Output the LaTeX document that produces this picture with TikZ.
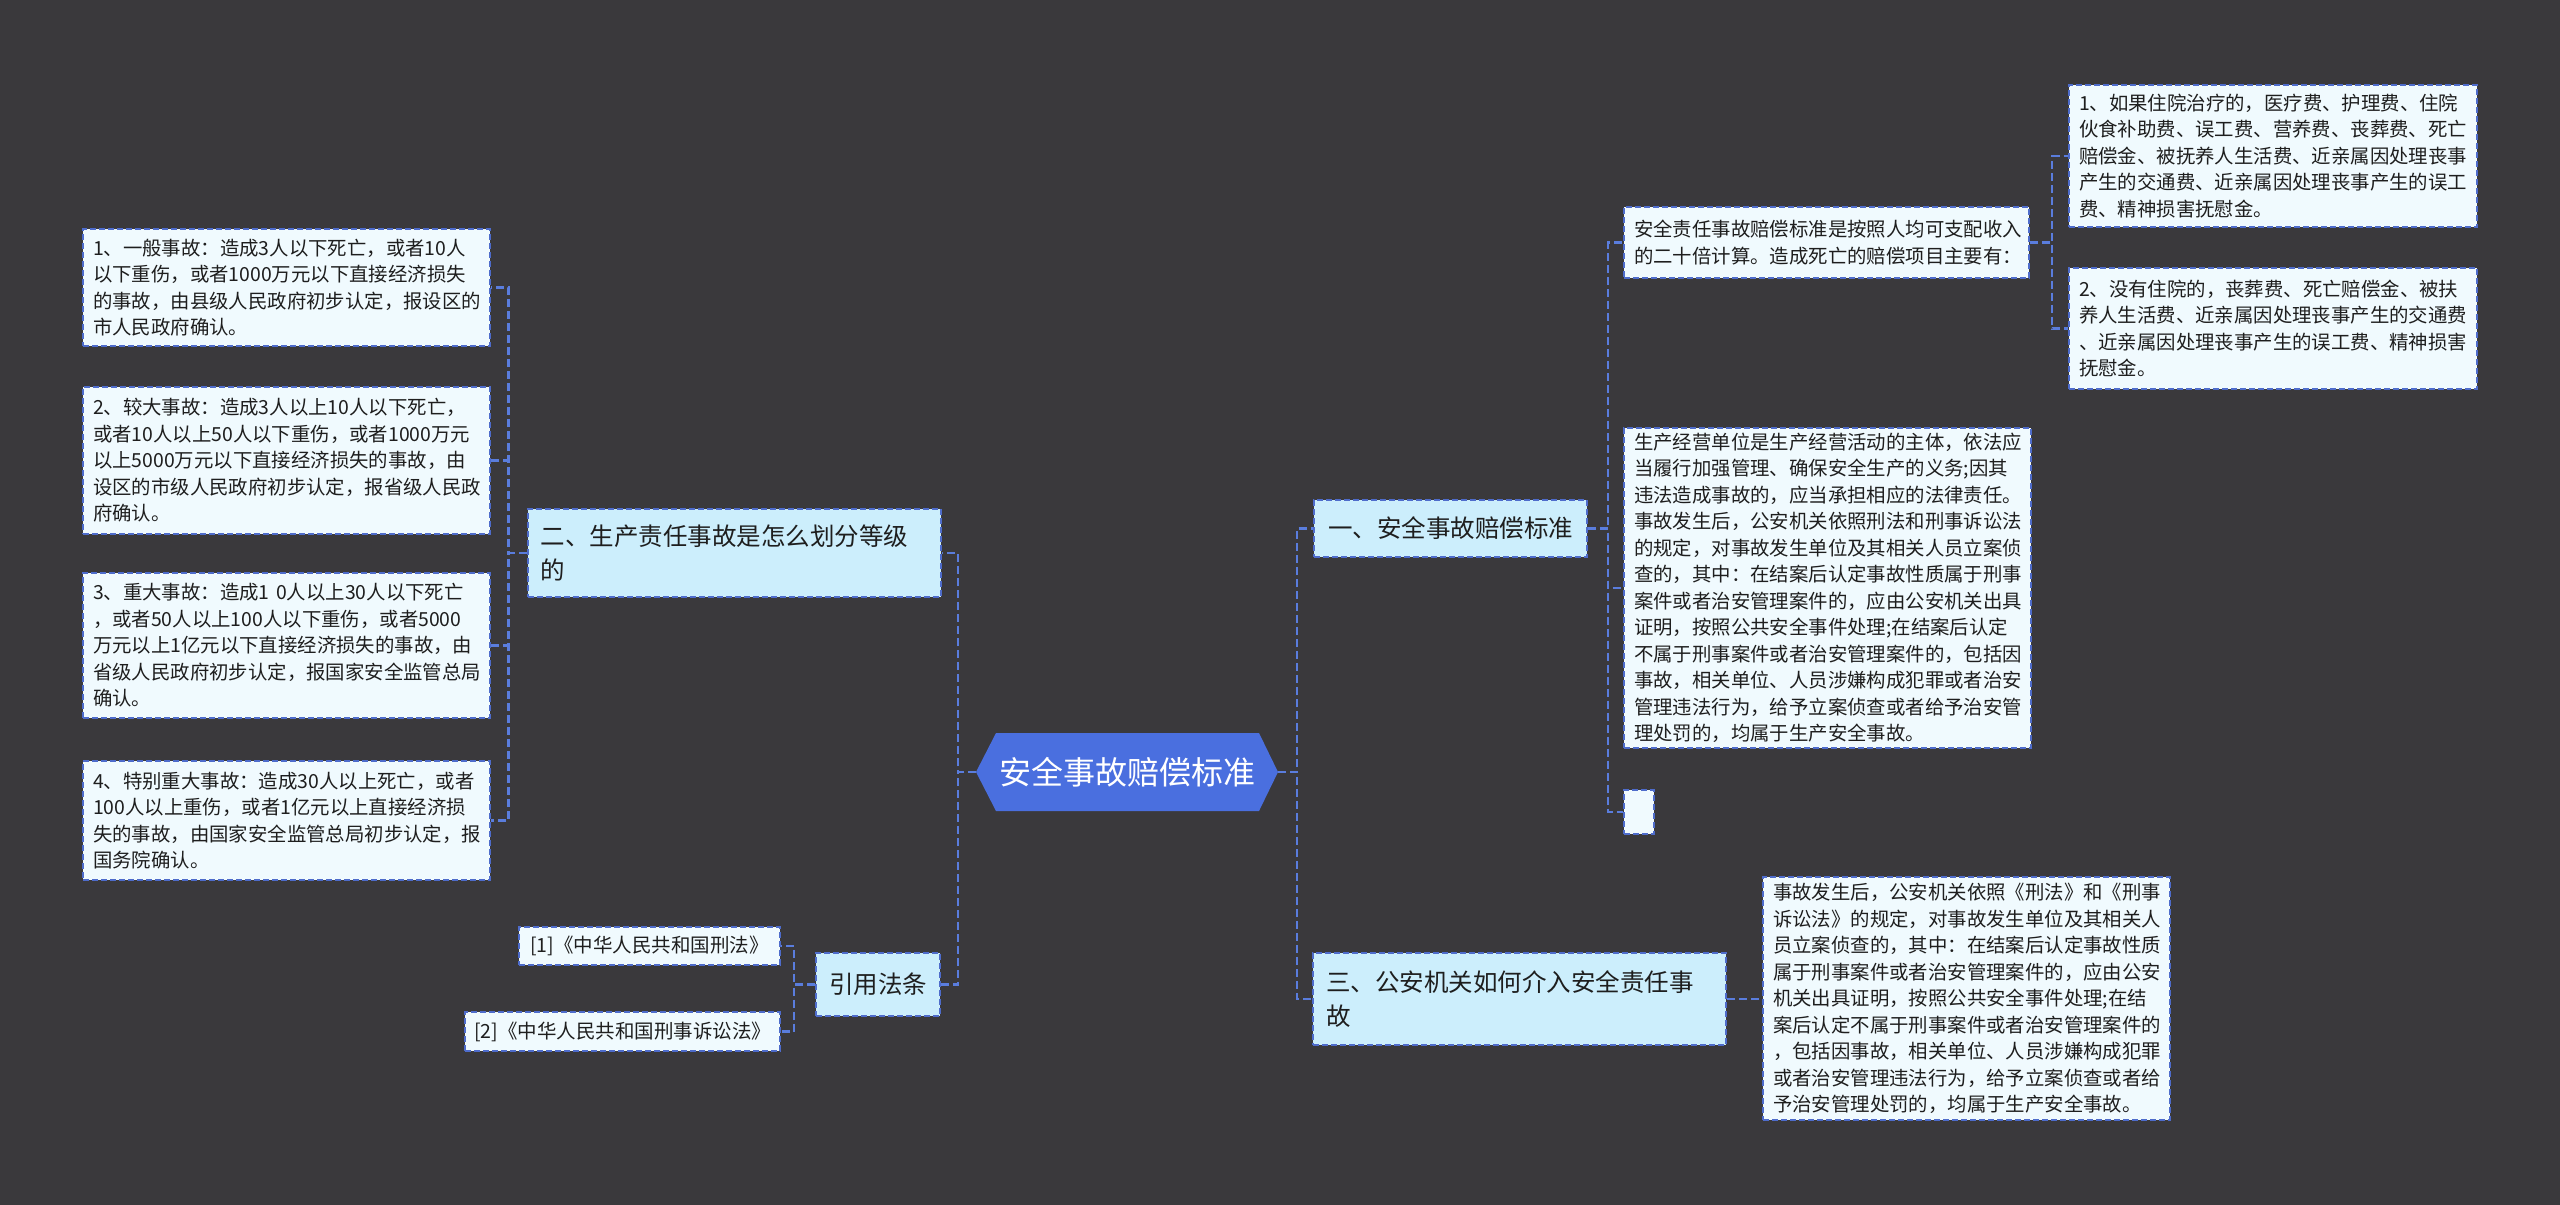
\documentclass[tikz,border=0pt]{standalone}
\usepackage{fontspec}
\setmainfont{Noto Sans CJK SC}
\definecolor{bgc}{HTML}{3A393C}
\definecolor{lineblue}{HTML}{5A7DDD}
\definecolor{boxblue}{HTML}{4E6CCB}
\definecolor{lvltwo}{HTML}{CCEEFC}
\definecolor{leaffill}{HTML}{F0FAFE}
\definecolor{rootfill}{HTML}{4A6FDF}
\definecolor{txt}{HTML}{1E1E1E}
\newcommand{\leaffont}{\fontsize{19.4}{26.5}\selectfont}
\newcommand{\branchfont}{\fontsize{24.5}{34}\selectfont}
\newcommand{\citefont}{\fontsize{19.5}{24}\selectfont}
\newcommand{\rootfont}{\fontsize{32}{38}\selectfont}
\tikzset{
  connline/.style={draw=lineblue, line width=2.6pt, dash pattern=on 8pt off 4pt},
  boxline/.style={draw=boxblue, line width=2pt, dash pattern=on 6pt off 3pt},
  leafbox/.style={boxline, fill=leaffill, text=txt, font=\leaffont, align=left, inner xsep=10pt, inner ysep=0pt},
  citebox/.style={boxline, fill=leaffill, text=txt, font=\citefont, inner xsep=0pt, inner ysep=0pt},
  branchbox/.style={boxline, fill=lvltwo, text=txt, font=\branchfont, inner xsep=13pt, inner ysep=0pt},
}
\begin{document}
\begin{tikzpicture}[x=1pt, y=-1pt]
\useasboundingbox (0,0) rectangle (2560,1205);
\fill[bgc] (0,0) rectangle (2560,1205);

% root hexagon
\fill[rootfill] (996,733) -- (1259,733) -- (1278,772) -- (1259,811) -- (996,811) -- (976,772) -- cycle;
\node[text=white, font=\rootfont, inner sep=0pt] (root) at (1127.5,772) {安全事故赔偿标准};
\coordinate (rootL) at (976,772);
\coordinate (rootR) at (1278,772);

% level two
\node[branchbox, minimum width=273pt, minimum height=57pt, inner xsep=0pt] (n1) at (1450.5,528.5) {一、安全事故赔偿标准};
\node[branchbox, text width=387pt, align=left, minimum height=88pt] (n2) at (734,553) {二、生产责任事故是怎么划分等级\\的};
\node[branchbox, text width=387pt, align=left, minimum height=92pt] (n3) at (1519.5,999) {三、公安机关如何介入安全责任事\\故};
\node[branchbox, minimum width=124pt, minimum height=63pt, inner xsep=0pt] (cite) at (878,984.5) {引用法条};

% left leaves
\node[leafbox, text width=387pt, minimum height=117pt] (L1) at (286.5,287.5) {1、一般事故：造成3人以下死亡，或者10人\\以下重伤，或者1000万元以下直接经济损失\\的事故，由县级人民政府初步认定，报设区的\\市人民政府确认。};
\node[leafbox, text width=387pt, minimum height=147pt] (L2) at (286.5,460.5) {2、较大事故：造成3人以上10人以下死亡，\\或者10人以上50人以下重伤，或者1000万元\\以上5000万元以下直接经济损失的事故，由\\设区的市级人民政府初步认定，报省级人民政\\府确认。};
\node[leafbox, text width=387pt, minimum height=145pt] (L3) at (286.5,645.5) {3、重大事故：造成1 0人以上30人以下死亡\\，或者50人以上100人以下重伤，或者5000\\万元以上1亿元以下直接经济损失的事故，由\\省级人民政府初步认定，报国家安全监管总局\\确认。};
\node[leafbox, text width=387pt, minimum height=119pt] (L4) at (286.5,820.5) {4、特别重大事故：造成30人以上死亡，或者\\100人以上重伤，或者1亿元以上直接经济损\\失的事故，由国家安全监管总局初步认定，报\\国务院确认。};

% citations
\node[citebox, minimum width=261pt, minimum height=38pt] (c1) at (649.5,946) {[1]《中华人民共和国刑法》};
\node[citebox, minimum width=315pt, minimum height=39pt] (c2) at (622.5,1031.5) {[2]《中华人民共和国刑事诉讼法》};

% right leaves
\node[leafbox, text width=385pt, minimum height=71pt] (R1) at (1826.5,242.5) {安全责任事故赔偿标准是按照人均可支配收入\\的二十倍计算。造成死亡的赔偿项目主要有：};
\node[leafbox, text width=388pt, minimum height=142pt] (R1a) at (2273,156) {1、如果住院治疗的，医疗费、护理费、住院\\伙食补助费、误工费、营养费、丧葬费、死亡\\赔偿金、被抚养人生活费、近亲属因处理丧事\\产生的交通费、近亲属因处理丧事产生的误工\\费、精神损害抚慰金。};
\node[leafbox, text width=388pt, minimum height=121pt] (R1b) at (2273,328.5) {2、没有住院的，丧葬费、死亡赔偿金、被扶\\养人生活费、近亲属因处理丧事产生的交通费\\、近亲属因处理丧事产生的误工费、精神损害\\抚慰金。};
\node[leafbox, text width=387pt, minimum height=320pt] (R2) at (1827.5,588) {生产经营单位是生产经营活动的主体，依法应\\当履行加强管理、确保安全生产的义务;因其\\违法造成事故的，应当承担相应的法律责任。\\事故发生后，公安机关依照刑法和刑事诉讼法\\的规定，对事故发生单位及其相关人员立案侦\\查的，其中：在结案后认定事故性质属于刑事\\案件或者治安管理案件的，应由公安机关出具\\证明，按照公共安全事件处理;在结案后认定\\不属于刑事案件或者治安管理案件的，包括因\\事故，相关单位、人员涉嫌构成犯罪或者治安\\管理违法行为，给予立案侦查或者给予治安管\\理处罚的，均属于生产安全事故。};
\node[leafbox, inner xsep=0pt, minimum width=30pt, minimum height=44pt] (R3) at (1639,812) {};
\node[leafbox, text width=387pt, minimum height=243pt] (R4) at (1966.5,998.5) {事故发生后，公安机关依照《刑法》和《刑事\\诉讼法》的规定，对事故发生单位及其相关人\\员立案侦查的，其中：在结案后认定事故性质\\属于刑事案件或者治安管理案件的，应由公安\\机关出具证明，按照公共安全事件处理;在结\\案后认定不属于刑事案件或者治安管理案件的\\，包括因事故，相关单位、人员涉嫌构成犯罪\\或者治安管理违法行为，给予立案侦查或者给\\予治安管理处罚的，均属于生产安全事故。};

% connectors
\draw[connline] (rootR) -- ++(19,0) |- (n1.west);
\draw[connline] (rootR) -- ++(19,0) |- (n3.west);
\draw[connline] (rootL) -- ++(-18,0) |- (n2.east);
\draw[connline] (rootL) -- ++(-18,0) |- (cite.east);

\draw[connline] (n2.west) -- ++(-18,0) |- (L1.east);
\draw[connline] (n2.west) -- ++(-18,0) |- (L2.east);
\draw[connline] (n2.west) -- ++(-18,0) |- (L3.east);
\draw[connline] (n2.west) -- ++(-18,0) |- (L4.east);

\draw[connline] (cite.west) -- ++(-21,0) |- (c1.east);
\draw[connline] (cite.west) -- ++(-21,0) |- (c2.east);

\draw[connline] (n1.east) -- ++(20,0) |- (R1.west);
\draw[connline] (n1.east) -- ++(20,0) |- (R2.west);
\draw[connline] (n1.east) -- ++(20,0) |- (R3.west);

\draw[connline] (R1.east) -- ++(22,0) |- (R1a.west);
\draw[connline] (R1.east) -- ++(22,0) |- (R1b.west);

\draw[connline] (n3.east) -- (n3.east -| R4.west);
\end{tikzpicture}
\end{document}
